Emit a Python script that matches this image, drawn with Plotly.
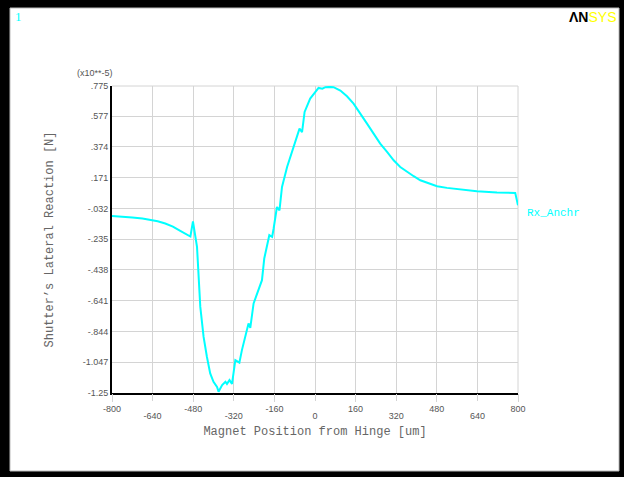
import plotly.graph_objects as go

# ---- data ----
x_um = [-800, -760, -720, -680, -649, -620, -590, -560, -531, -510, -491, -481,
        -465, -452, -439, -426, -413, -400, -386, -380, -366, -353, -347, -337,
        -327, -314, -307, -298, -288, -262, -255, -242, -209, -200, -180, -169,
        -163, -150, -140, -130, -110, -84, -61, -51, -41, -19, -5, 14, 29, 41,
        58, 73, 100, 126, 152, 178, 205, 231, 257, 284, 310, 336, 363, 389, 415,
        448, 481, 520, 560, 638, 717, 789, 800]
rx_anchr = [-0.082, -0.086, -0.092, -0.099, -0.106, -0.117, -0.132, -0.153, -0.181,
            -0.199, -0.218, -0.118, -0.286, -0.682, -0.880, -1.011, -1.121, -1.176,
            -1.210, -1.242, -1.198, -1.176, -1.190, -1.165, -1.190, -1.033, -1.040,
            -1.050, -0.967, -0.791, -0.820, -0.659, -0.506, -0.363, -0.209, -0.220,
            -0.165, -0.023, -0.045, 0.109, 0.241, 0.373, 0.494, 0.470, 0.604, 0.692,
            0.725, 0.762, 0.757, 0.767, 0.769, 0.767, 0.745, 0.707, 0.659, 0.597,
            0.527, 0.461, 0.395, 0.340, 0.285, 0.241, 0.208, 0.180, 0.153, 0.132,
            0.114, 0.103, 0.094, 0.081, 0.072, 0.070, -0.012]

x_ticks = [-800, -640, -480, -320, -160, 0, 160, 320, 480, 640, 800]
x_tick_labels = ["-800", "-640", "-480", "-320", "-160", "0", "160", "320", "480", "640", "800"]
y_tick_labels = [".775", ".577", ".374", ".171", "-.032", "-.235", "-.438", "-.641",
                 "-.844", "-1.047", "-1.25"]
y_ticks = [float(t) for t in y_tick_labels]

# staggered x labels: upper row on xaxis, lower row on an overlaying xaxis2
upper_vals = x_ticks[0::2]
upper_text = x_tick_labels[0::2]
lower_vals = x_ticks[1::2]
lower_text = x_tick_labels[1::2]

W, H = 624, 477
L, R, T, B = 112, 106, 86, 84
pw, ph = W - L - R, H - T - B

def px(xp):
    return (xp - L) / pw

def py(yp):
    return (H - B - yp) / ph

fig = go.Figure()
fig.add_trace(go.Scatter(x=x_um, y=rx_anchr, mode="lines", name="Rx_Anchr",
                         line=dict(color="#00ffff", width=2), showlegend=False))
# invisible helper trace so the second x axis (lower label row) is drawn
fig.add_trace(go.Scatter(x=[x_ticks[0], x_ticks[-1]], y=[y_ticks[0], y_ticks[0]],
                         xaxis="x2", mode="lines", line=dict(width=0),
                         hoverinfo="skip", showlegend=False))

grid = "#d4d4d4"
tickfont = dict(family="Liberation Sans, Arial", size=9, color="#555555")
titlefont = dict(family="Liberation Mono, Courier New, monospace", size=12, color="#666666")

fig.update_layout(
    width=W, height=H,
    margin=dict(l=L, r=R, t=T, b=B),
    paper_bgcolor="black",
    plot_bgcolor="white",
    xaxis=dict(range=[-800, 800], tickvals=upper_vals, ticktext=upper_text,
               showgrid=False,
               ticks="outside", ticklen=7, tickcolor=grid, tickwidth=1,
               showline=True, linecolor="black", linewidth=2, zeroline=False,
               tickfont=tickfont, tickangle=0, ticklabelstandoff=-1,
               title=dict(text="Magnet Position from Hinge [um]", font=titlefont,
                          standoff=14)),
    xaxis2=dict(range=[-800, 800], overlaying="x", anchor="y", side="bottom",
                tickvals=x_ticks,
                ticktext=["" if v in upper_vals else lower_text[lower_vals.index(v)]
                          for v in x_ticks],
                showgrid=True, gridcolor=grid, gridwidth=1,
                ticks="outside", ticklen=7, tickcolor=grid, tickwidth=1,
                showline=False, zeroline=False, tickfont=tickfont, tickangle=0,
                ticklabelstandoff=7),
    yaxis=dict(range=[-1.25, 0.775], tickvals=y_ticks, ticktext=y_tick_labels,
               showgrid=True, gridcolor=grid, gridwidth=1,
               showline=True, linecolor="black", linewidth=2, zeroline=False,
               ticks="", tickfont=tickfont,
               title=dict(text="Shutter\u2019s Lateral Reaction [N]", font=titlefont,
                          standoff=26)),
    shapes=[
        dict(type="rect", xref="paper", yref="paper", layer="below",
             x0=px(10), x1=px(619), y0=py(471), y1=py(8),
             fillcolor="white", line=dict(color="#bbbbbb", width=1)),
        dict(type="line", xref="paper", yref="paper", x0=0, x1=1, y0=1, y1=1,
             line=dict(color=grid, width=1), layer="below"),
        dict(type="line", xref="paper", yref="paper", x0=1, x1=1, y0=0, y1=1,
             line=dict(color=grid, width=1), layer="below"),
    ],
    annotations=[
        dict(text="(x10**-5)", xref="paper", yref="paper", x=px(75), y=py(73),
             xanchor="left", yanchor="middle", showarrow=False,
             font=dict(family="Liberation Sans, Arial", size=9, color="#555555")),
        dict(text="1", xref="paper", yref="paper", x=px(13), y=py(17),
             xanchor="left", yanchor="middle", showarrow=False,
             font=dict(family="Liberation Serif, Times New Roman", size=13, color="#00ffff")),
        dict(text="<b>\u039bN</b><span style='color:#ffff00'>SYS</span>",
             xref="paper", yref="paper", x=px(618), y=py(17),
             xanchor="right", yanchor="middle", showarrow=False,
             font=dict(family="Liberation Sans, Arial", size=14, color="black")),
        dict(text="Rx_Anchr", xref="paper", yref="paper", x=px(525), y=py(213),
             xanchor="left", yanchor="middle", showarrow=False,
             font=dict(family="Liberation Mono, Courier New, monospace", size=11,
                       color="#00ffff")),
    ],
)

fig.write_html("out.html")
